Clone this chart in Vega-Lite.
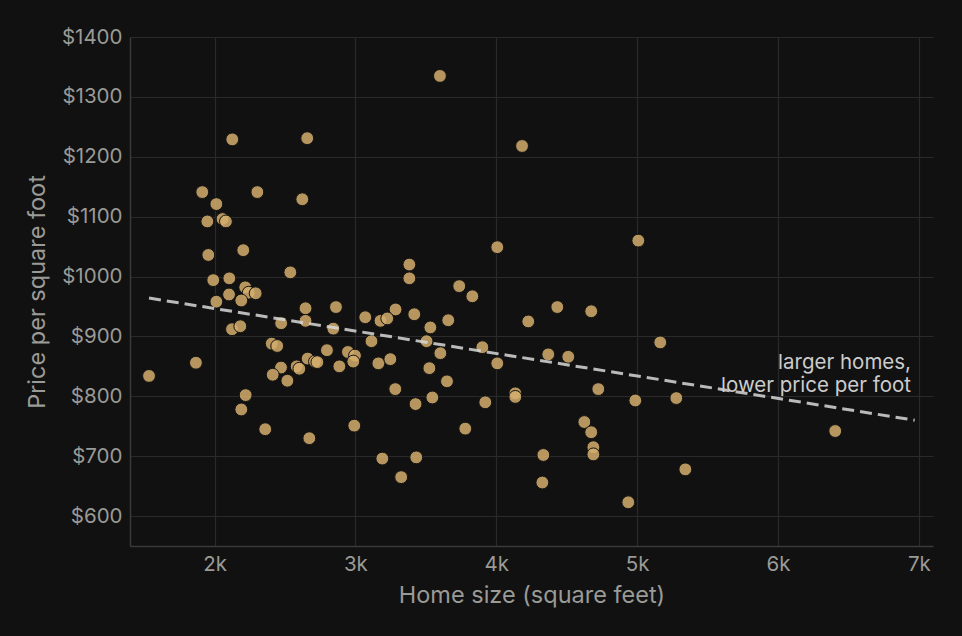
{
  "$schema": "https://vega.github.io/schema/vega-lite/v6.json",
  "autosize": {"type": "none"},
  "padding": {"left": 130, "top": 37, "right": 29, "bottom": 90},
  "width": 803,
  "height": 509,
  "background": "#111111",
  "config": {
    "view": {"stroke": null},
    "font": "Inter",
    "axis": {
      "domainColor": "#3a3a3a",
      "domainWidth": 1.5,
      "gridColor": "#2a2a2a",
      "gridWidth": 1.2,
      "ticks": false,
      "labelColor": "#9a9a96",
      "labelFont": "Inter",
      "labelFontSize": 20.5,
      "labelPadding": 8,
      "titleColor": "#9a9a96",
      "titleFont": "Inter",
      "titleFontSize": 23.5,
      "titleFontWeight": "normal"
    }
  },
  "data": {
    "values": [
      {"sqft": 1535, "ppsf": 834},
      {"sqft": 1868, "ppsf": 856},
      {"sqft": 2126, "ppsf": 1229},
      {"sqft": 2658, "ppsf": 1231},
      {"sqft": 3600, "ppsf": 1335},
      {"sqft": 4183, "ppsf": 1218},
      {"sqft": 1913, "ppsf": 1141},
      {"sqft": 2304, "ppsf": 1141},
      {"sqft": 2623, "ppsf": 1129},
      {"sqft": 2013, "ppsf": 1121},
      {"sqft": 1949, "ppsf": 1092},
      {"sqft": 2057, "ppsf": 1096},
      {"sqft": 2081, "ppsf": 1092},
      {"sqft": 1956, "ppsf": 1036},
      {"sqft": 2204, "ppsf": 1044},
      {"sqft": 2538, "ppsf": 1007},
      {"sqft": 1991, "ppsf": 994},
      {"sqft": 2105, "ppsf": 997},
      {"sqft": 2218, "ppsf": 982},
      {"sqft": 2243, "ppsf": 973},
      {"sqft": 2292, "ppsf": 972},
      {"sqft": 2103, "ppsf": 970},
      {"sqft": 2190, "ppsf": 960},
      {"sqft": 2013, "ppsf": 958},
      {"sqft": 2646, "ppsf": 947},
      {"sqft": 2862, "ppsf": 949},
      {"sqft": 3070, "ppsf": 932},
      {"sqft": 3285, "ppsf": 945},
      {"sqft": 3418, "ppsf": 937},
      {"sqft": 3178, "ppsf": 926},
      {"sqft": 3226, "ppsf": 930},
      {"sqft": 2473, "ppsf": 922},
      {"sqft": 2646, "ppsf": 926},
      {"sqft": 2843, "ppsf": 913},
      {"sqft": 2124, "ppsf": 912},
      {"sqft": 2183, "ppsf": 917},
      {"sqft": 3114, "ppsf": 892},
      {"sqft": 2406, "ppsf": 888},
      {"sqft": 2445, "ppsf": 884},
      {"sqft": 2798, "ppsf": 877},
      {"sqft": 2947, "ppsf": 874},
      {"sqft": 2997, "ppsf": 868},
      {"sqft": 2985, "ppsf": 858},
      {"sqft": 2661, "ppsf": 863},
      {"sqft": 2713, "ppsf": 858},
      {"sqft": 2730, "ppsf": 857},
      {"sqft": 2886, "ppsf": 850},
      {"sqft": 3163, "ppsf": 855},
      {"sqft": 3248, "ppsf": 862},
      {"sqft": 2472, "ppsf": 848},
      {"sqft": 2583, "ppsf": 850},
      {"sqft": 2602, "ppsf": 846},
      {"sqft": 2413, "ppsf": 836},
      {"sqft": 2517, "ppsf": 826},
      {"sqft": 3283, "ppsf": 812},
      {"sqft": 2221, "ppsf": 802},
      {"sqft": 2190, "ppsf": 778},
      {"sqft": 3427, "ppsf": 787},
      {"sqft": 2360, "ppsf": 745},
      {"sqft": 2673, "ppsf": 730},
      {"sqft": 2992, "ppsf": 751},
      {"sqft": 3191, "ppsf": 696},
      {"sqft": 3432, "ppsf": 698},
      {"sqft": 3325, "ppsf": 665},
      {"sqft": 3383, "ppsf": 1020},
      {"sqft": 3383, "ppsf": 997},
      {"sqft": 3737, "ppsf": 984},
      {"sqft": 3830, "ppsf": 967},
      {"sqft": 4007, "ppsf": 1049},
      {"sqft": 3659, "ppsf": 927},
      {"sqft": 3532, "ppsf": 915},
      {"sqft": 3505, "ppsf": 892},
      {"sqft": 3901, "ppsf": 882},
      {"sqft": 3603, "ppsf": 872},
      {"sqft": 4007, "ppsf": 855},
      {"sqft": 3525, "ppsf": 847},
      {"sqft": 3650, "ppsf": 825},
      {"sqft": 3546, "ppsf": 798},
      {"sqft": 3922, "ppsf": 790},
      {"sqft": 4135, "ppsf": 805},
      {"sqft": 4135, "ppsf": 799},
      {"sqft": 3780, "ppsf": 746},
      {"sqft": 5008, "ppsf": 1060},
      {"sqft": 4433, "ppsf": 949},
      {"sqft": 4674, "ppsf": 942},
      {"sqft": 4227, "ppsf": 925},
      {"sqft": 5164, "ppsf": 890},
      {"sqft": 4369, "ppsf": 870},
      {"sqft": 4511, "ppsf": 866},
      {"sqft": 4724, "ppsf": 812},
      {"sqft": 4987, "ppsf": 793},
      {"sqft": 5278, "ppsf": 797},
      {"sqft": 4625, "ppsf": 757},
      {"sqft": 4674, "ppsf": 740},
      {"sqft": 4689, "ppsf": 715},
      {"sqft": 4689, "ppsf": 703},
      {"sqft": 4334, "ppsf": 702},
      {"sqft": 4327, "ppsf": 656},
      {"sqft": 5342, "ppsf": 678},
      {"sqft": 4937, "ppsf": 623},
      {"sqft": 6406, "ppsf": 742}
    ]
  },
  "encoding": {
    "x": {
      "field": "sqft",
      "type": "quantitative",
      "scale": {"domain": [1400, 7100], "nice": false, "zero": false},
      "axis": {"values": [2000, 3000, 4000, 5000, 6000, 7000], "format": "~s", "title": "Home size (square feet)", "titlePadding": 9}
    },
    "y": {
      "field": "ppsf",
      "type": "quantitative",
      "scale": {"domain": [550, 1400], "nice": false, "zero": false},
      "axis": {"values": [600, 700, 800, 900, 1000, 1100, 1200, 1300, 1400], "labelExpr": "'$' + datum.value", "title": "Price per square foot", "titlePadding": 12}
    }
  },
  "layer": [
    {
      "mark": {"type": "circle", "size": 165, "color": "#d4ae6c", "fillOpacity": 0.85, "stroke": "#111111", "strokeWidth": 1, "strokeOpacity": 1}
    },
    {
      "data": {"values": [{"sqft": 1535, "ppsf": 964}, {"sqft": 6970, "ppsf": 760}]},
      "mark": {"type": "line", "color": "#d8d8d8", "opacity": 0.85, "strokeWidth": 3, "strokeDash": [12, 6]}
    },
    {
      "data": {"values": [{"sqft": 6944, "ppsf": 846, "note": "larger homes,\nlower price per foot"}]},
      "mark": {"type": "text", "align": "right", "baseline": "alphabetic", "lineBreak": "\n", "lineHeight": 23, "fontSize": 20.5, "font": "Inter", "color": "#cccccc"},
      "encoding": {"text": {"field": "note", "type": "nominal"}}
    }
  ]
}
